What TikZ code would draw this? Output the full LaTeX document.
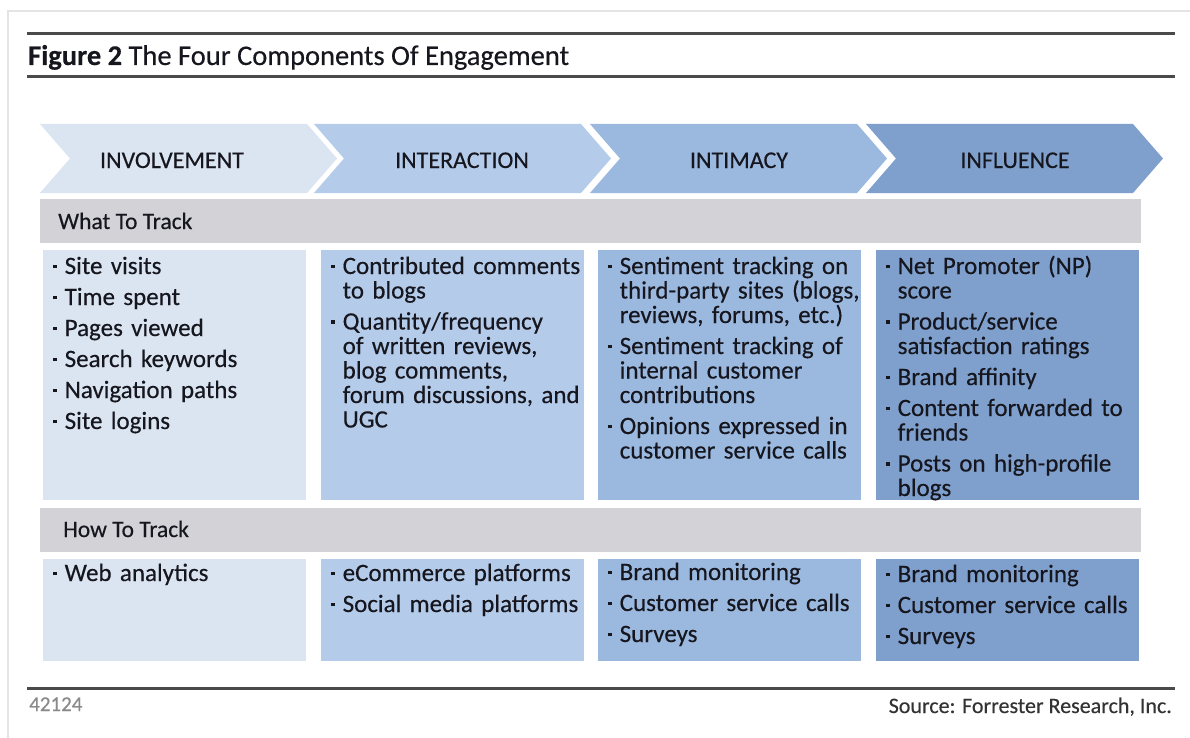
\documentclass[tikz,border=0pt]{standalone}
\usepackage{fontspec}
\setmainfont{Carlito}[FakeBold=0.35]
\usetikzlibrary{calc}

\definecolor{engA}{HTML}{DBE5F1}
\definecolor{engB}{HTML}{B4CBEA}
\definecolor{engC}{HTML}{9BB8DF}
\definecolor{engD}{HTML}{7F9FCC}
\definecolor{barfill}{HTML}{D3D2D7}
\definecolor{rulecol}{HTML}{4A4A4A}
\definecolor{framecol}{HTML}{E4E4E4}
\definecolor{ink}{HTML}{16161E}
\definecolor{idgray}{HTML}{8A8A8A}
\definecolor{srcgray}{HTML}{333333}

% small square bullet and hanging-indent list items
\newcommand\sqbullet{\raisebox{0.24em}{\rule{0.14em}{0.14em}}}
\newcommand\firstitem{\noindent\hangindent=11.5pt\hangafter=1\makebox[11.5pt][l]{\sqbullet}}
\newcommand\nextitem{\par\vspace{6.5pt}\firstitem}
\newcommand\nl{\hfil\break}

\tikzset{
  rulestyle/.style={draw=rulecol, line width=3pt},
  chevlabel/.style={font=\fontsize{24}{26}\selectfont, text=ink, anchor=base, inner sep=0},
  barstyle/.style={fill=barfill, draw=none, anchor=north west, inner sep=0},
  barlabel/.style={font=\fontsize{23.5}{26}\selectfont, text=ink, anchor=base west, inner sep=0},
  cell/.style={draw=none, anchor=north west, inner sep=0, minimum width=263pt},
  celltext/.style={font=\fontsize{25}{24.5}\selectfont, text=ink, anchor=base west,
    inner sep=0, text width=262pt},
}

\begin{document}
\begin{tikzpicture}[x=1pt, y=-1pt]
  \useasboundingbox (0,0) rectangle (1190,738);
  \fill[white] (0,0) rectangle (1190,738);

  % page frame
  \draw[framecol, line width=1.5pt] (8,738) -- (8,11) -- (1190,11);

  % title block
  \coordinate (r1a) at (27,34);  \coordinate (r1b) at (1175,34);
  \coordinate (r2a) at (27,77);  \coordinate (r2b) at (1175,77);
  \draw[rulestyle] (r1a) -- (r1b);
  \draw[rulestyle] (r2a) -- (r2b);
  \node[anchor=base west, inner sep=0, text=ink, font=\fontsize{28.5}{30}\selectfont]
    (title) at (28,65) {\textbf{Figure 2} The Four Components Of Engagement};

  % chevrons: left edge L, body width 267, point depth 30
  \foreach \L/\col [count=\i] in {40/engA, 314/engB, 590/engC, 866/engD} {
    \fill[\col] (\L,124) -- ++(267,0) -- ++(30,34.5) -- ++(-30,34.5)
      -- ++(-267,0) -- ++(30,-34.5) -- cycle;
  }
  \node[chevlabel] (inv) at (172,168) {INVOLVEMENT};
  \node[chevlabel] (int) at (462,168) {INTERACTION};
  \node[chevlabel] (intim) at (739,168) {INTIMACY};
  \node[chevlabel] (infl) at (1015,168) {INFLUENCE};

  % section bars
  \node[barstyle, minimum width=1101pt, minimum height=44pt] (whatbar) at (40,199) {};
  \node[barlabel] (whatlbl) at (58,229) {What To Track};
  \node[barstyle, minimum width=1101pt, minimum height=44pt] (howbar) at (40,508) {};
  \node[barlabel] (howlbl) at (63,537) {How To Track};

  % what-to-track cells
  \node[cell, fill=engA, minimum height=250pt] (w1) at (43,250) {};
  \node[cell, fill=engB, minimum height=250pt] (w2) at (321,250) {};
  \node[cell, fill=engC, minimum height=250pt] (w3) at (598,250) {};
  \node[cell, fill=engD, minimum height=250pt] (w4) at (876,250) {};

  \node[celltext] (tw1) at ($(w1.north west)+(10,24)$) {%
    \firstitem Site visits
    \nextitem Time spent
    \nextitem Pages viewed
    \nextitem Search keywords
    \nextitem Navigation paths
    \nextitem Site logins\par};
  \node[celltext] (tw2) at ($(w2.north west)+(10,24)$) {%
    \firstitem Contributed comments\nl to blogs
    \nextitem Quantity/frequency\nl of written reviews,\nl blog comments,\nl forum discussions, and\nl UGC\par};
  \node[celltext] (tw3) at ($(w3.north west)+(10,24)$) {%
    \firstitem Sentiment tracking on\nl third-party sites (blogs,\nl reviews, forums, etc.)
    \nextitem Sentiment tracking of\nl internal customer\nl contributions
    \nextitem Opinions expressed in\nl customer service calls\par};
  \node[celltext] (tw4) at ($(w4.north west)+(10,24)$) {%
    \firstitem Net Promoter (NP)\nl score
    \nextitem Product/service\nl satisfaction ratings
    \nextitem Brand affinity
    \nextitem Content forwarded to\nl friends
    \nextitem Posts on high-profile\nl blogs\par};

  % how-to-track cells
  \node[cell, fill=engA, minimum height=102pt] (h1) at (43,559) {};
  \node[cell, fill=engB, minimum height=102pt] (h2) at (321,559) {};
  \node[cell, fill=engC, minimum height=102pt] (h3) at (598,559) {};
  \node[cell, fill=engD, minimum height=102pt] (h4) at (876,559) {};

  \node[celltext] (th1) at ($(h1.north west)+(10,22)$) {%
    \firstitem Web analytics\par};
  \node[celltext] (th2) at ($(h2.north west)+(10,22)$) {%
    \firstitem eCommerce platforms
    \nextitem Social media platforms\par};
  \node[celltext] (th3) at ($(h3.north west)+(10,21)$) {%
    \firstitem Brand monitoring
    \nextitem Customer service calls
    \nextitem Surveys\par};
  \node[celltext] (th4) at ($(h4.north west)+(10,23)$) {%
    \firstitem Brand monitoring
    \nextitem Customer service calls
    \nextitem Surveys\par};

  % footer
  \coordinate (r3a) at (27,688); \coordinate (r3b) at (1175,688);
  \draw[rulestyle] (r3a) -- (r3b);
  \node[anchor=base west, inner sep=0, text=idgray, font=\fontsize{21}{22}\selectfont]
    (figid) at (29,711) {42124};
  \node[anchor=base east, inner sep=0, text=srcgray, font=\fontsize{22}{24}\selectfont]
    (source) at (1172,713) {Source: Forrester Research, Inc.};
\end{tikzpicture}
\end{document}
